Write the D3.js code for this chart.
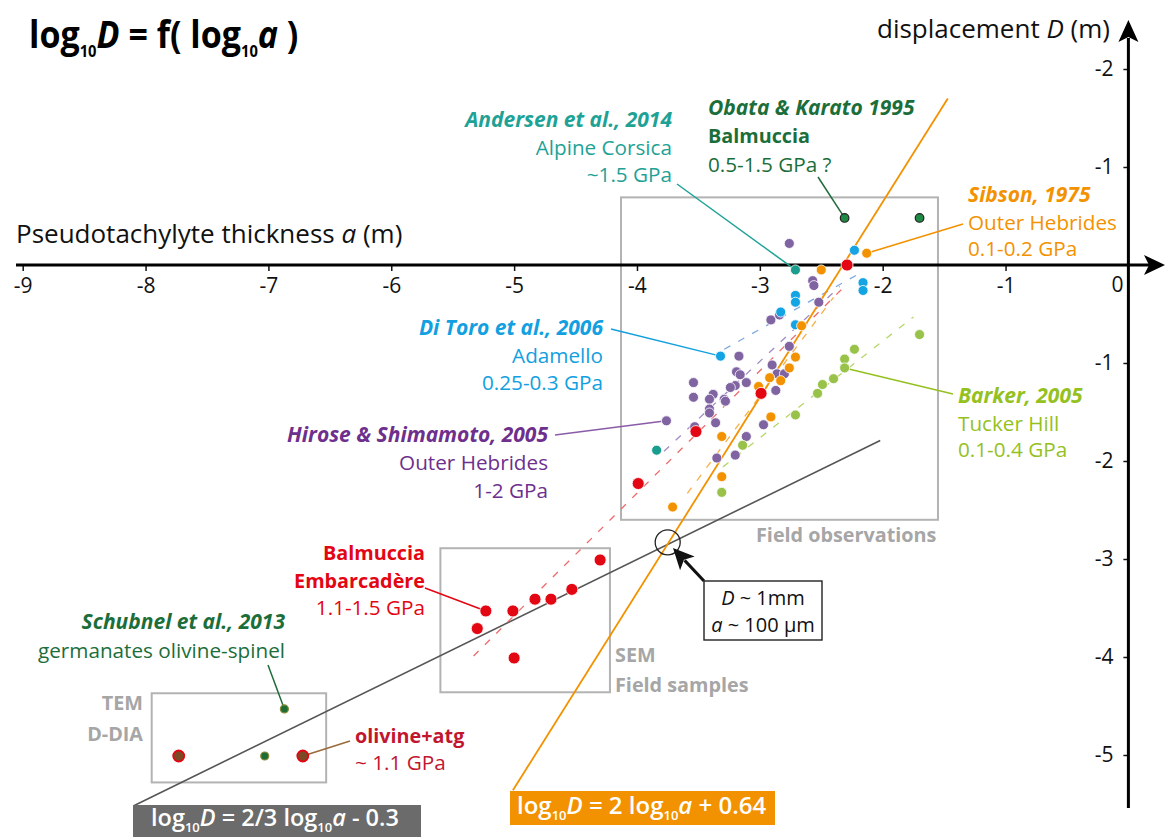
<!DOCTYPE html>
<html><head><meta charset="utf-8">
<script src="https://cdn.jsdelivr.net/npm/d3@7"></script>
<style>
html,body{margin:0;padding:0;background:#fff;}
svg{display:block;font-family:"Open Sans","Noto Sans",sans-serif;}
</style></head>
<body><svg id="c" width="1165" height="837"></svg>
<script>
// ---------- DATA (log10 a, log10 D) ----------
const xTicks = [-9,-8,-7,-6,-5,-4,-3,-2,-1];
const xTickLabels = ["-9","-8","-7","-6","-5","-4","-3","-2","-1"];
const yTicks = [-5,-4,-3,-2,-1,1,2];
const yTickLabels = ["-5","-4","-3","-2","-1","-1","-2"];

const obata = [[-2.31,0.48],[-1.70,0.48]];
const hirose = [[-2.76,0.22],[-2.57,-0.16],[-2.56,-0.21],[-2.52,-0.38],[-2.91,-0.56],[-2.84,-0.51],
  [-3.17,-0.93],[-2.76,-0.83],[-2.90,-1.02],[-3.19,-1.09],[-3.16,-1.12],[-3.11,-1.20],[-2.86,-1.11],
  [-2.80,-1.11],[-2.87,-1.28],[-3.20,-1.23],[-3.24,-1.25],[-3.54,-1.20],[-3.54,-1.35],[-3.38,-1.32],
  [-3.41,-1.37],[-3.29,-1.37],[-3.28,-1.39],[-3.41,-1.47],[-3.41,-1.51],[-3.36,-1.61],[-2.97,-1.63],
  [-3.76,-1.59],[-3.11,-1.75],[-3.35,-1.97],[-3.20,-1.94],[-3.53,-1.65]];
const diToro = [[-2.23,0.15],[-2.16,-0.18],[-2.16,-0.26],[-2.71,-0.31],[-2.71,-0.38],[-2.83,-0.48],
  [-2.71,-0.61],[-3.32,-0.93]];
const andersen = [[-2.71,-0.05],[-3.84,-1.89]];
const sibson = [[-2.13,0.12],[-2.50,-0.05],[-2.66,-0.62],[-2.71,-0.94],[-2.76,-1.05],[-2.92,-1.15],
  [-2.83,-1.18],[-3.01,-1.24],[-2.91,-1.55],[-3.31,-1.75],[-3.31,-2.16],[-3.71,-2.47]];
const balmuccia = [[-2.29,0.00],[-2.99,-1.31],[-3.52,-1.70],[-3.99,-2.23],
  [-4.30,-3.01],[-4.53,-3.31],[-4.70,-3.41],[-4.83,-3.41],[-5.01,-3.53],[-5.23,-3.53],[-5.30,-3.71],[-5.00,-4.01]];
const barker = [[-1.70,-0.71],[-2.23,-0.86],[-2.31,-0.96],[-2.31,-1.05],[-2.40,-1.16],[-2.49,-1.22],
  [-2.53,-1.31],[-2.71,-1.53],[-3.14,-1.84],[-3.31,-2.32]];
const schubnel = [[-6.87,-4.53],[-7.03,-5.01]];
const olivineAtg = [[-7.73,-5.01],[-6.72,-5.01]];

// trend lines
const steepLaw = [[-5.01,-5.36],[-1.47,1.70]];
const shallowLaw = [[-8.10,-5.52],[-2.02,-1.79]];
const fitDiToro = [[-3.29,-0.86],[-2.18,-0.08]];
const fitHirose = [[-3.78,-1.90],[-2.35,-0.22]];
const fitBalmuccia = [[-5.33,-3.99],[-2.32,-0.23]];
const fitSibson = [[-3.59,-2.33],[-2.40,-0.33]];
const fitBarker = [[-3.30,-2.06],[-1.75,-0.53]];
const crossing = [-3.75,-2.83];

// ---------- SETUP ----------
const svg = d3.select("#c");
const x = d3.scaleLinear().domain([-9,0]).range([22.7,1128.4]);
const y = d3.scaleLinear().domain([-5,2]).range([755,69]);
const X0 = x(0), Y0 = y(0);

const C = {teal:"#1ea296", dgreen:"#1b6e3a", orange:"#f39200", blue:"#12a0e0", green:"#95c11f",
  purple:"#8064a2", purpleText:"#6e2f8d", red:"#e30613", crimson:"#c2162f", gray:"#a6a6a6", brown:"#7b4a24"};

// ---------- BOXES ----------
const boxes = [[-4.13,0.69,-1.55,-2.60],[-5.60,-2.89,-4.22,-4.36],[-7.95,-4.37,-6.53,-5.28]];
svg.selectAll("rect.box").data(boxes).join("rect").attr("class","box")
  .attr("x",d=>x(d[0])).attr("y",d=>y(d[1])).attr("width",d=>x(d[2])-x(d[0])).attr("height",d=>y(d[3])-y(d[1]))
  .attr("fill","none").attr("stroke","#b3b3b3").attr("stroke-width",2);

// ---------- LINES ----------
const line = d3.line().x(d=>x(d[0])).y(d=>y(d[1]));
svg.append("path").attr("d",line(shallowLaw)).attr("stroke","#555").attr("stroke-width",1.6).attr("fill","none");
[[fitDiToro,"#7fa9dc"],[fitHirose,"#a08cc4"],[fitBalmuccia,"#ef6b6b"],[fitSibson,"#f5b04a"],[fitBarker,"#b5d66a"]]
 .forEach(([d,c])=>svg.append("path").attr("d",line(d)).attr("stroke",c).attr("stroke-width",1.3)
   .attr("stroke-dasharray","7,9").attr("fill","none"));
svg.append("path").attr("d",line(steepLaw)).attr("stroke",C.orange).attr("stroke-width",1.8).attr("fill","none");

// ---------- AXES ----------
const gx = svg.append("g").attr("transform",`translate(0,${Y0})`)
  .call(d3.axisBottom(x).tickValues(xTicks).tickFormat((d,i)=>xTickLabels[i]).tickSize(6).tickPadding(7));
gx.select(".domain").remove();
gx.selectAll(".tick line").attr("stroke","#111").attr("stroke-width",1.5);
gx.selectAll("text").attr("font-size",21).attr("fill","#111").attr("font-family","Open Sans");
svg.append("text").attr("x",X0-11).attr("y",Y0+27).attr("text-anchor","middle").attr("font-size",21).attr("fill","#111").text("0");

const gy = svg.append("g").attr("transform",`translate(${X0},0)`)
  .call(d3.axisLeft(y).tickValues(yTicks).tickFormat((d,i)=>yTickLabels[i]).tickSize(5).tickPadding(10));
gy.select(".domain").remove();
gy.selectAll(".tick line").attr("stroke","#111").attr("stroke-width",1.5);
gy.selectAll("text").attr("font-size",21).attr("fill","#111").attr("font-family","Open Sans");

svg.append("line").attr("x1",16).attr("x2",1150).attr("y1",Y0).attr("y2",Y0).attr("stroke","#000").attr("stroke-width",3);
svg.append("path").attr("d",`M1165,${Y0} L1144,${Y0-10} L1149,${Y0} L1144,${Y0+10} Z`).attr("fill","#000");
svg.append("line").attr("x1",X0).attr("x2",X0).attr("y1",808).attr("y2",38).attr("stroke","#000").attr("stroke-width",3);
svg.append("path").attr("d",`M${X0},20 L${X0-10},42 L${X0},37 L${X0+10},42 Z`).attr("fill","#000");

// ---------- LEADERS ----------
const leaders = [
  [677,184,andersen[0],C.teal],[818,177,obata[0],"#1f6b3a"],[963,224,sibson[0],C.orange],
  [611,329,diToro[7],C.blue],[953,394,barker[3],C.green],[555,435,hirose[27],"#8a5ca8"],
  [425,588,balmuccia[9],C.red],[268,665,schubnel[0],"#1f6b3a"],[350,741,olivineAtg[1],"#9a6a3a"]];
leaders.forEach(([lx,ly,p,c])=>svg.append("line").attr("x1",lx).attr("y1",ly).attr("x2",x(p[0])).attr("y2",y(p[1]))
  .attr("stroke",c).attr("stroke-width",1.5));

// ---------- POINTS ----------
function dots(data, fill, r, stroke, sw){
  svg.append("g").selectAll("circle").data(data).join("circle")
    .attr("cx",d=>x(d[0])).attr("cy",d=>y(d[1])).attr("r",r)
    .attr("fill",fill).attr("stroke",stroke).attr("stroke-width",sw);
}
dots(hirose,C.purple,5,"#fff",0.8);
dots(diToro,"#14a3e3",5,"#fff",0.8);
dots(andersen,"#1a9c8e",5,"#fff",0.8);
dots(sibson,C.orange,5,"#fff",0.8);
dots(barker,"#98c24a",5,"#fff",0.8);
dots(balmuccia,C.red,6,"#fff",0.8);
dots(obata,"#1e8a44",4.3,"#222",1.2);
dots(schubnel,"#1e6e34",4,"#8a8a3a",1.2);
dots(olivineAtg,C.brown,5.5,C.red,1.8);

// crossing circle + callout
svg.append("circle").attr("cx",x(crossing[0])).attr("cy",y(crossing[1])).attr("r",12.5)
  .attr("fill","none").attr("stroke","#222").attr("stroke-width",1.3);
(function(){
  const sx=704, sy=581, tx=673, ty=548;
  const dx=tx-sx, dy=ty-sy, L=Math.hypot(dx,dy), ux=dx/L, uy=dy/L;
  const bx=tx-ux*21, by=ty-uy*21, px=-uy, py=ux;
  svg.append("line").attr("x1",sx).attr("y1",sy).attr("x2",bx+ux*4).attr("y2",by+uy*4).attr("stroke","#111").attr("stroke-width",3);
  svg.append("path").attr("d",`M${tx},${ty} L${bx+px*10},${by+py*10} L${bx+ux*5},${by+uy*5} L${bx-px*10},${by-py*10} Z`).attr("fill","#111");
})();
svg.append("rect").attr("x",704).attr("y",581).attr("width",118).attr("height",59)
  .attr("fill","#fff").attr("stroke","#222").attr("stroke-width",1.4);
(function(){
  const t1 = svg.append("text").attr("x",763).attr("y",605).attr("text-anchor","middle").attr("font-size",20).attr("fill","#111");
  t1.append("tspan").attr("font-style","italic").text("D");
  t1.append("tspan").text(" ~ 1mm");
  const t2 = svg.append("text").attr("x",763).attr("y",632).attr("text-anchor","middle").attr("font-size",20).attr("fill","#111");
  t2.append("tspan").attr("font-style","italic").text("a");
  t2.append("tspan").text(" ~ 100 µm");
})();

// ---------- TEXT LABELS ----------
function block(xp, anchor, color, lines){
  lines.forEach(([t,yb,w,it,col])=>{
    const size = it ? 21 : (w ? 19.8 : 20.7);
    svg.append("text").attr("x",xp).attr("y",yb).attr("text-anchor",anchor)
      .attr("font-size",size).attr("font-weight",w||400).attr("font-style",it?"italic":"normal")
      .attr("fill",col||color).text(t);
  });
}
block(672,"end",C.teal,[["Andersen et al., 2014",127,700,1],["Alpine Corsica",155],["~1.5 GPa",182]]);
block(708,"start","#1b6e3a",[["Obata & Karato 1995",115,700,1],["Balmuccia",143,700],["0.5-1.5 GPa ?",171.5]]);
block(968,"start",C.orange,[["Sibson, 1975",202,700,1],["Outer Hebrides",230],["0.1-0.2 GPa",256]]);
block(603,"end",C.blue,[["Di Toro et al., 2006",335,700,1],["Adamello",363],["0.25-0.3 GPa",390]]);
block(958,"start",C.green,[["Barker, 2005",403,700,1],["Tucker Hill",431],["0.1-0.4 GPa",457]]);
block(548,"end",C.purpleText,[["Hirose & Shimamoto, 2005",442,700,1],["Outer Hebrides",470],["1-2 GPa",498]]);
block(425,"end",C.red,[["Balmuccia",560,700],["Embarcadère",588,700],["1.1-1.5 GPa",615]]);
block(285,"end","#1b6e3a",[["Schubnel et al., 2013",629,700,1],["germanates olivine-spinel",658]]);
block(143,"end",C.gray,[["TEM",710,700],["D-DIA",741,700]]);
block(355,"start",C.crimson,[["olivine+atg",743,700],["~ 1.1 GPa",770]]);
block(615,"start",C.gray,[["SEM",662,700],["Field samples",692,700]]);
block(756,"start",C.gray,[["Field observations",542,700]]);

// axis titles
svg.append("text").attr("x",16).attr("y",243).attr("font-size",26).attr("fill","#111")
  .html('Pseudotachylyte thickness <tspan font-style="italic">a</tspan> (m)');
svg.append("text").attr("x",1110).attr("y",38).attr("text-anchor","end").attr("font-size",26).attr("fill","#111")
  .html('displacement <tspan font-style="italic">D</tspan> (m)');

// title
(function(){
  const g = svg.append("g").attr("transform","translate(29,48) scale(0.92,1)");
  const t = g.append("text").attr("font-size",37).attr("font-weight",700).attr("fill","#000");
  t.append("tspan").text("log");
  t.append("tspan").attr("font-size",16).attr("dy",9).text("10");
  t.append("tspan").attr("dy",-9).attr("font-style","italic").text("D");
  t.append("tspan").text("  =  f( log");
  t.append("tspan").attr("font-size",16).attr("dy",9).text("10");
  t.append("tspan").attr("dy",-9).attr("font-style","italic").text("a");
  t.append("tspan").text(" )");
})();

// equation boxes
function eqBox(bx,by,bw,bh,fill,tx,tyy,fs,parts){
  svg.append("rect").attr("x",bx).attr("y",by).attr("width",bw).attr("height",bh).attr("fill",fill);
  const t = svg.append("text").attr("x",tx).attr("y",tyy).attr("font-size",fs).attr("font-weight",600).attr("fill","#fff");
  parts.forEach(([s,kind])=>{
    const sp = t.append("tspan").text(s);
    if(kind==="sub") sp.attr("font-size",13).attr("dy",6);
    if(kind==="up") sp.attr("dy",-6).attr("font-style","italic");
  });
}
eqBox(133,805,288,40,"#6b6b6b",151,826,23.5,[["log"],["10","sub"],["D","up"],[" = 2/3 log"],["10","sub"],["a","up"],[" - 0.3"]]);
eqBox(510,791,265,34,C.orange,517,814,24,[["log"],["10","sub"],["D","up"],[" = 2 log"],["10","sub"],["a","up"],[" + 0.64"]]);
</script></body></html>
